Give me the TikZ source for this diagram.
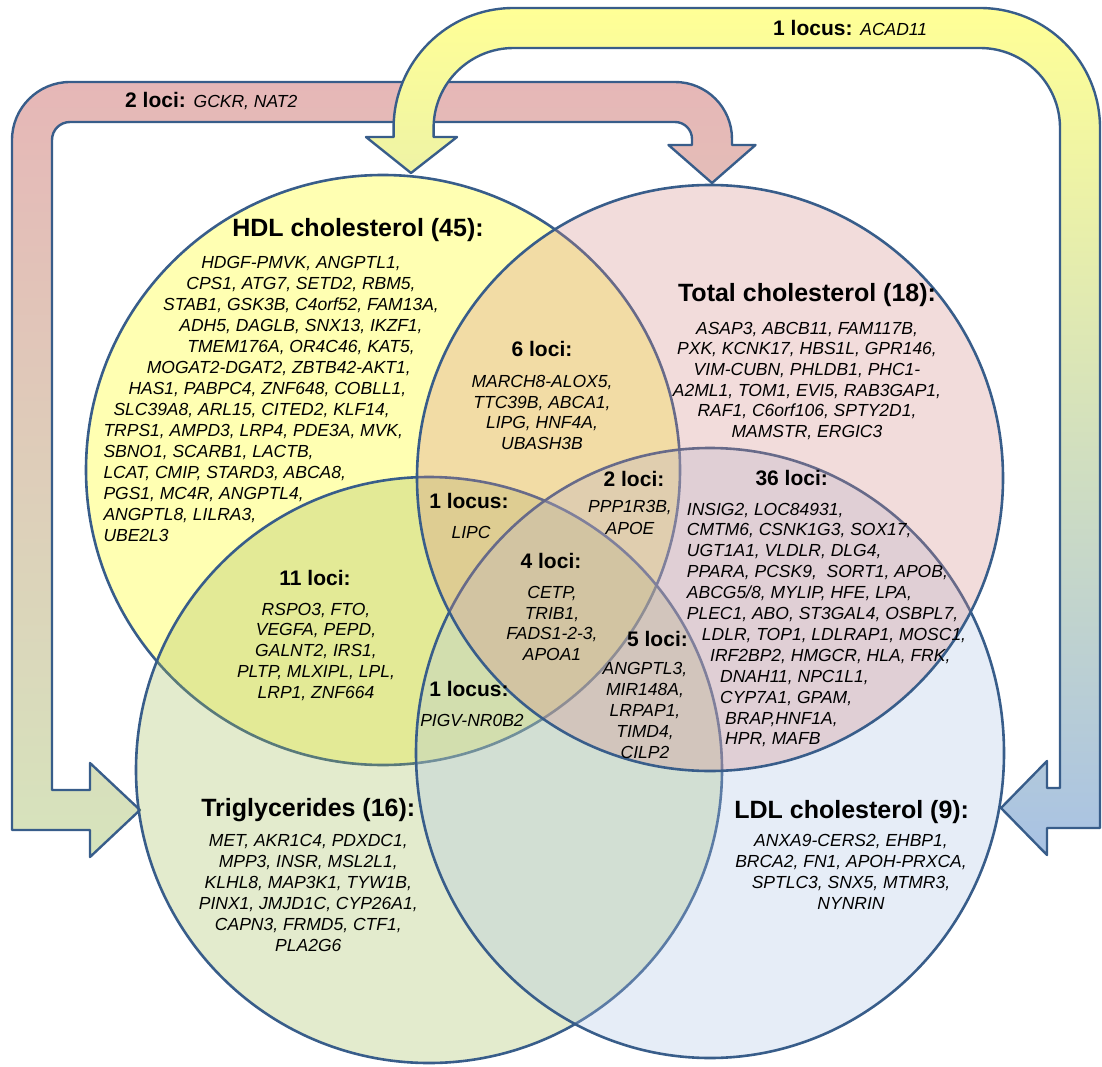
\documentclass[tikz,border=0pt]{standalone}
\usepackage{fontspec}
\setmainfont{Liberation Sans}
\definecolor{edgeblue}{RGB}{56,93,138}
\definecolor{cHDL}{RGB}{255,255,0}
\definecolor{cTG}{RGB}{162,188,88}
\definecolor{cLDL}{RGB}{172,195,228}
\definecolor{cTC}{RGB}{212,138,135}
\definecolor{pinkT}{RGB}{230,183,183}
\definecolor{greenB}{RGB}{214,228,188}
\definecolor{yellowT}{RGB}{255,255,150}
\definecolor{blueB}{RGB}{168,194,228}
\newcommand{\myitgene}{\fontsize{17.5}{21}\selectfont\mdseries\itshape}
\begin{document}
\begin{tikzpicture}[x=1pt,y=-1pt,
  ring/.style={draw=edgeblue, line width=2.6pt, fill opacity=0.3},
  band/.style={draw=edgeblue, line width=2.4pt, line join=round},
  big/.style={font=\fontsize{25}{30}\selectfont\bfseries, inner sep=0pt, anchor=base},
  sub/.style={font=\fontsize{21}{25}\selectfont\bfseries, inner sep=0pt, anchor=base},
  gene/.style={font=\fontsize{17.5}{21}\selectfont\itshape, inner sep=0pt, anchor=base},
  genel/.style={gene, anchor=base west},
  lbl/.style={inner sep=0pt, anchor=base west, font=\fontsize{21}{25}\selectfont\bfseries}
]
\useasboundingbox (0,0) rectangle (1102,1067);

% ---------- pink/green double arrow (2 loci) ----------
\path[band, top color=pinkT, bottom color=greenB]
  (712,183) -- (668.5,145) -- (692,145) -- (692,139)
  .. controls (692,129.6) and (684.4,122) .. (675,122)
  -- (70,122)
  .. controls (60.1,122) and (52,129.9) .. (52,140)
  -- (52,790) -- (90,790) -- (90,763) -- (140,810) -- (90,857) -- (90,830)
  -- (12,830) -- (12,140)
  .. controls (12,108) and (38,82) .. (70,82)
  -- (675,82)
  .. controls (706.5,82) and (732,107.5) .. (732,139)
  -- (732,145) -- (755.5,145) -- cycle;

% ---------- yellow/blue double arrow (1 locus) ----------
\path[band, top color=yellowT, bottom color=blueB]
  (411,173) -- (457,137) -- (433.6,137) -- (433.6,128)
  .. controls (433.6,83.8) and (469.4,48) .. (513.6,48)
  -- (980,48)
  .. controls (1024.2,48) and (1060,83.8) .. (1060,128)
  -- (1060,788) -- (1047,788) -- (1047,761) -- (1001,808) -- (1047,855)
  -- (1047,828) -- (1100,828) -- (1100,128)
  .. controls (1100,61.7) and (1046.3,8) .. (980,8)
  -- (513.6,8)
  .. controls (447.3,8) and (393.6,61.7) .. (393.6,128)
  -- (393.6,137) -- (366,137) -- cycle;

% ---------- circles ----------
\draw[ring, fill=cHDL] (383,470) ellipse [x radius=297pt, y radius=295pt];
\draw[ring, fill=cTG]  (429,770) ellipse [x radius=293pt, y radius=293pt];
\draw[ring, fill=cLDL] (710,753) ellipse [x radius=294pt, y radius=305pt];
\draw[ring, fill=cTC]  (710,478) ellipse [x radius=293pt, y radius=293pt];

% ---------- arrow labels ----------
\node[lbl] (labA) at (773,36) {1 locus: {\myitgene ACAD11}};
\node[lbl] (labB) at (125,108) {2 loci: {\myitgene GCKR, NAT2}};

% ---------- HDL ----------
\node[big] (hdlT) at (358,236.7) {HDL cholesterol (45):};
\foreach \t [count=\i] in {{HDGF-PMVK, ANGPTL1,},{CPS1, ATG7, SETD2, RBM5,},{STAB1, GSK3B, C4orf52, FAM13A,},{ADH5, DAGLB, SNX13, IKZF1,},{TMEM176A, OR4C46, KAT5,}}
  \node[gene] (hdl\i) at (301,{268.5+21*(\i-1)}) {\t};
\foreach \x/\t [count=\i from 6] in {146.7/{MOGAT2-DGAT2, ZBTB42-AKT1,},128.3/{HAS1, PABPC4, ZNF648, COBLL1,},113.3/{SLC39A8, ARL15, CITED2, KLF14,},103.3/{TRPS1, AMPD3, LRP4, PDE3A, MVK,},103.3/{SBNO1, SCARB1, LACTB,},103.3/{LCAT, CMIP, STARD3, ABCA8,},103.3/{PGS1, MC4R, ANGPTL4,},103.3/{ANGPTL8, LILRA3,},103.3/{UBE2L3}}
  \node[genel] (hdl\i) at (\x,{268.5+21*(\i-1)}) {\t};

% ---------- Total cholesterol ----------
\node[big] (tcT) at (807,301.7) {Total cholesterol (18):};
\foreach \t [count=\i] in {{ASAP3, ABCB11, FAM117B,},{PXK, KCNK17, HBS1L, GPR146,},{VIM-CUBN, PHLDB1, PHC1-},{A2ML1, TOM1, EVI5, RAB3GAP1,},{RAF1, C6orf106, SPTY2D1,},{MAMSTR, ERGIC3}}
  \node[gene] (tc\i) at (807,{334+20.7*(\i-1)}) {\t};

% ---------- 6 loci ----------
\node[sub] (sixT) at (542,356.7) {6 loci:};
\foreach \t [count=\i] in {{MARCH8-ALOX5,},{TTC39B, ABCA1,},{LIPG, HNF4A,},{UBASH3B}}
  \node[gene] (six\i) at (542,{387.3+20.7*(\i-1)}) {\t};

% ---------- 2 loci ----------
\node[sub] (twoT) at (634,486) {2 loci:};
\node[gene] (two1) at (630,512.7) {PPP1R3B,};
\node[gene] (two2) at (630,534) {APOE};

% ---------- 1 locus LIPC ----------
\node[sub] (oneaT) at (469,508.3) {1 locus:};
\node[gene] (onea1) at (471,538.3) {LIPC};

% ---------- 4 loci ----------
\node[sub] (fourT) at (551,568.3) {4 loci:};
\foreach \t [count=\i] in {{CETP,},{TRIB1,},{FADS1-2-3,},{APOA1}}
  \node[gene] (four\i) at (552,{598.3+20.7*(\i-1)}) {\t};

% ---------- 11 loci ----------
\node[sub] (elevT) at (315,585) {11 loci:};
\foreach \t [count=\i] in {{RSPO3, FTO,},{VEGFA, PEPD,},{GALNT2, IRS1,},{PLTP, MLXIPL, LPL,},{LRP1, ZNF664}}
  \node[gene] (elev\i) at (316,{615+20.8*(\i-1)}) {\t};

% ---------- 36 loci ----------
\node[sub] (thirT) at (791.7,485) {36 loci:};
\foreach \x/\t [count=\i] in {686.7/{INSIG2, LOC84931,},686.7/{CMTM6, CSNK1G3, SOX17,},686.7/{UGT1A1, VLDLR, DLG4,},686.7/{PPARA, PCSK9,\ \ SORT1, APOB,},686.7/{ABCG5/8, MYLIP, HFE, LPA,},686.7/{PLEC1, ABO, ST3GAL4, OSBPL7,},701.7/{LDLR, TOP1, LDLRAP1, MOSC1,},710/{IRF2BP2, HMGCR, HLA, FRK,},720/{DNAH11, NPC1L1,},720/{CYP7A1, GPAM,},725/{BRAP,HNF1A,},725/{HPR, MAFB}}
  \node[genel] (thir\i) at (\x,{515+20.9*(\i-1)}) {\t};

% ---------- 5 loci ----------
\node[sub] (fiveT) at (657.5,646.7) {5 loci:};
\foreach \t [count=\i] in {{ANGPTL3,},{MIR148A,},{LRPAP1,},{TIMD4,},{CILP2}}
  \node[gene] (five\i) at (645,{674.3+21*(\i-1)}) {\t};

% ---------- 1 locus PIGV ----------
\node[sub] (onebT) at (469,696.7) {1 locus:};
\node[gene] (oneb1) at (472,726) {PIGV-NR0B2};

% ---------- Triglycerides ----------
\node[big] (tgT) at (308.3,816.7) {Triglycerides (16):};
\foreach \t [count=\i] in {{MET, AKR1C4, PDXDC1,},{MPP3, INSR, MSL2L1,},{KLHL8, MAP3K1, TYW1B,},{PINX1, JMJD1C, CYP26A1,},{CAPN3, FRMD5, CTF1,},{PLA2G6}}
  \node[gene] (tg\i) at (308.3,{846.7+20.9*(\i-1)}) {\t};

% ---------- LDL ----------
\node[big] (ldlT) at (851.7,818.3) {LDL cholesterol (9):};
\foreach \t [count=\i] in {{ANXA9-CERS2, EHBP1,},{BRCA2, FN1, APOH-PRXCA,},{SPTLC3, SNX5, MTMR3,},{NYNRIN}}
  \node[gene] (ldl\i) at (851,{846.7+20.9*(\i-1)}) {\t};
\end{tikzpicture}
\end{document}
